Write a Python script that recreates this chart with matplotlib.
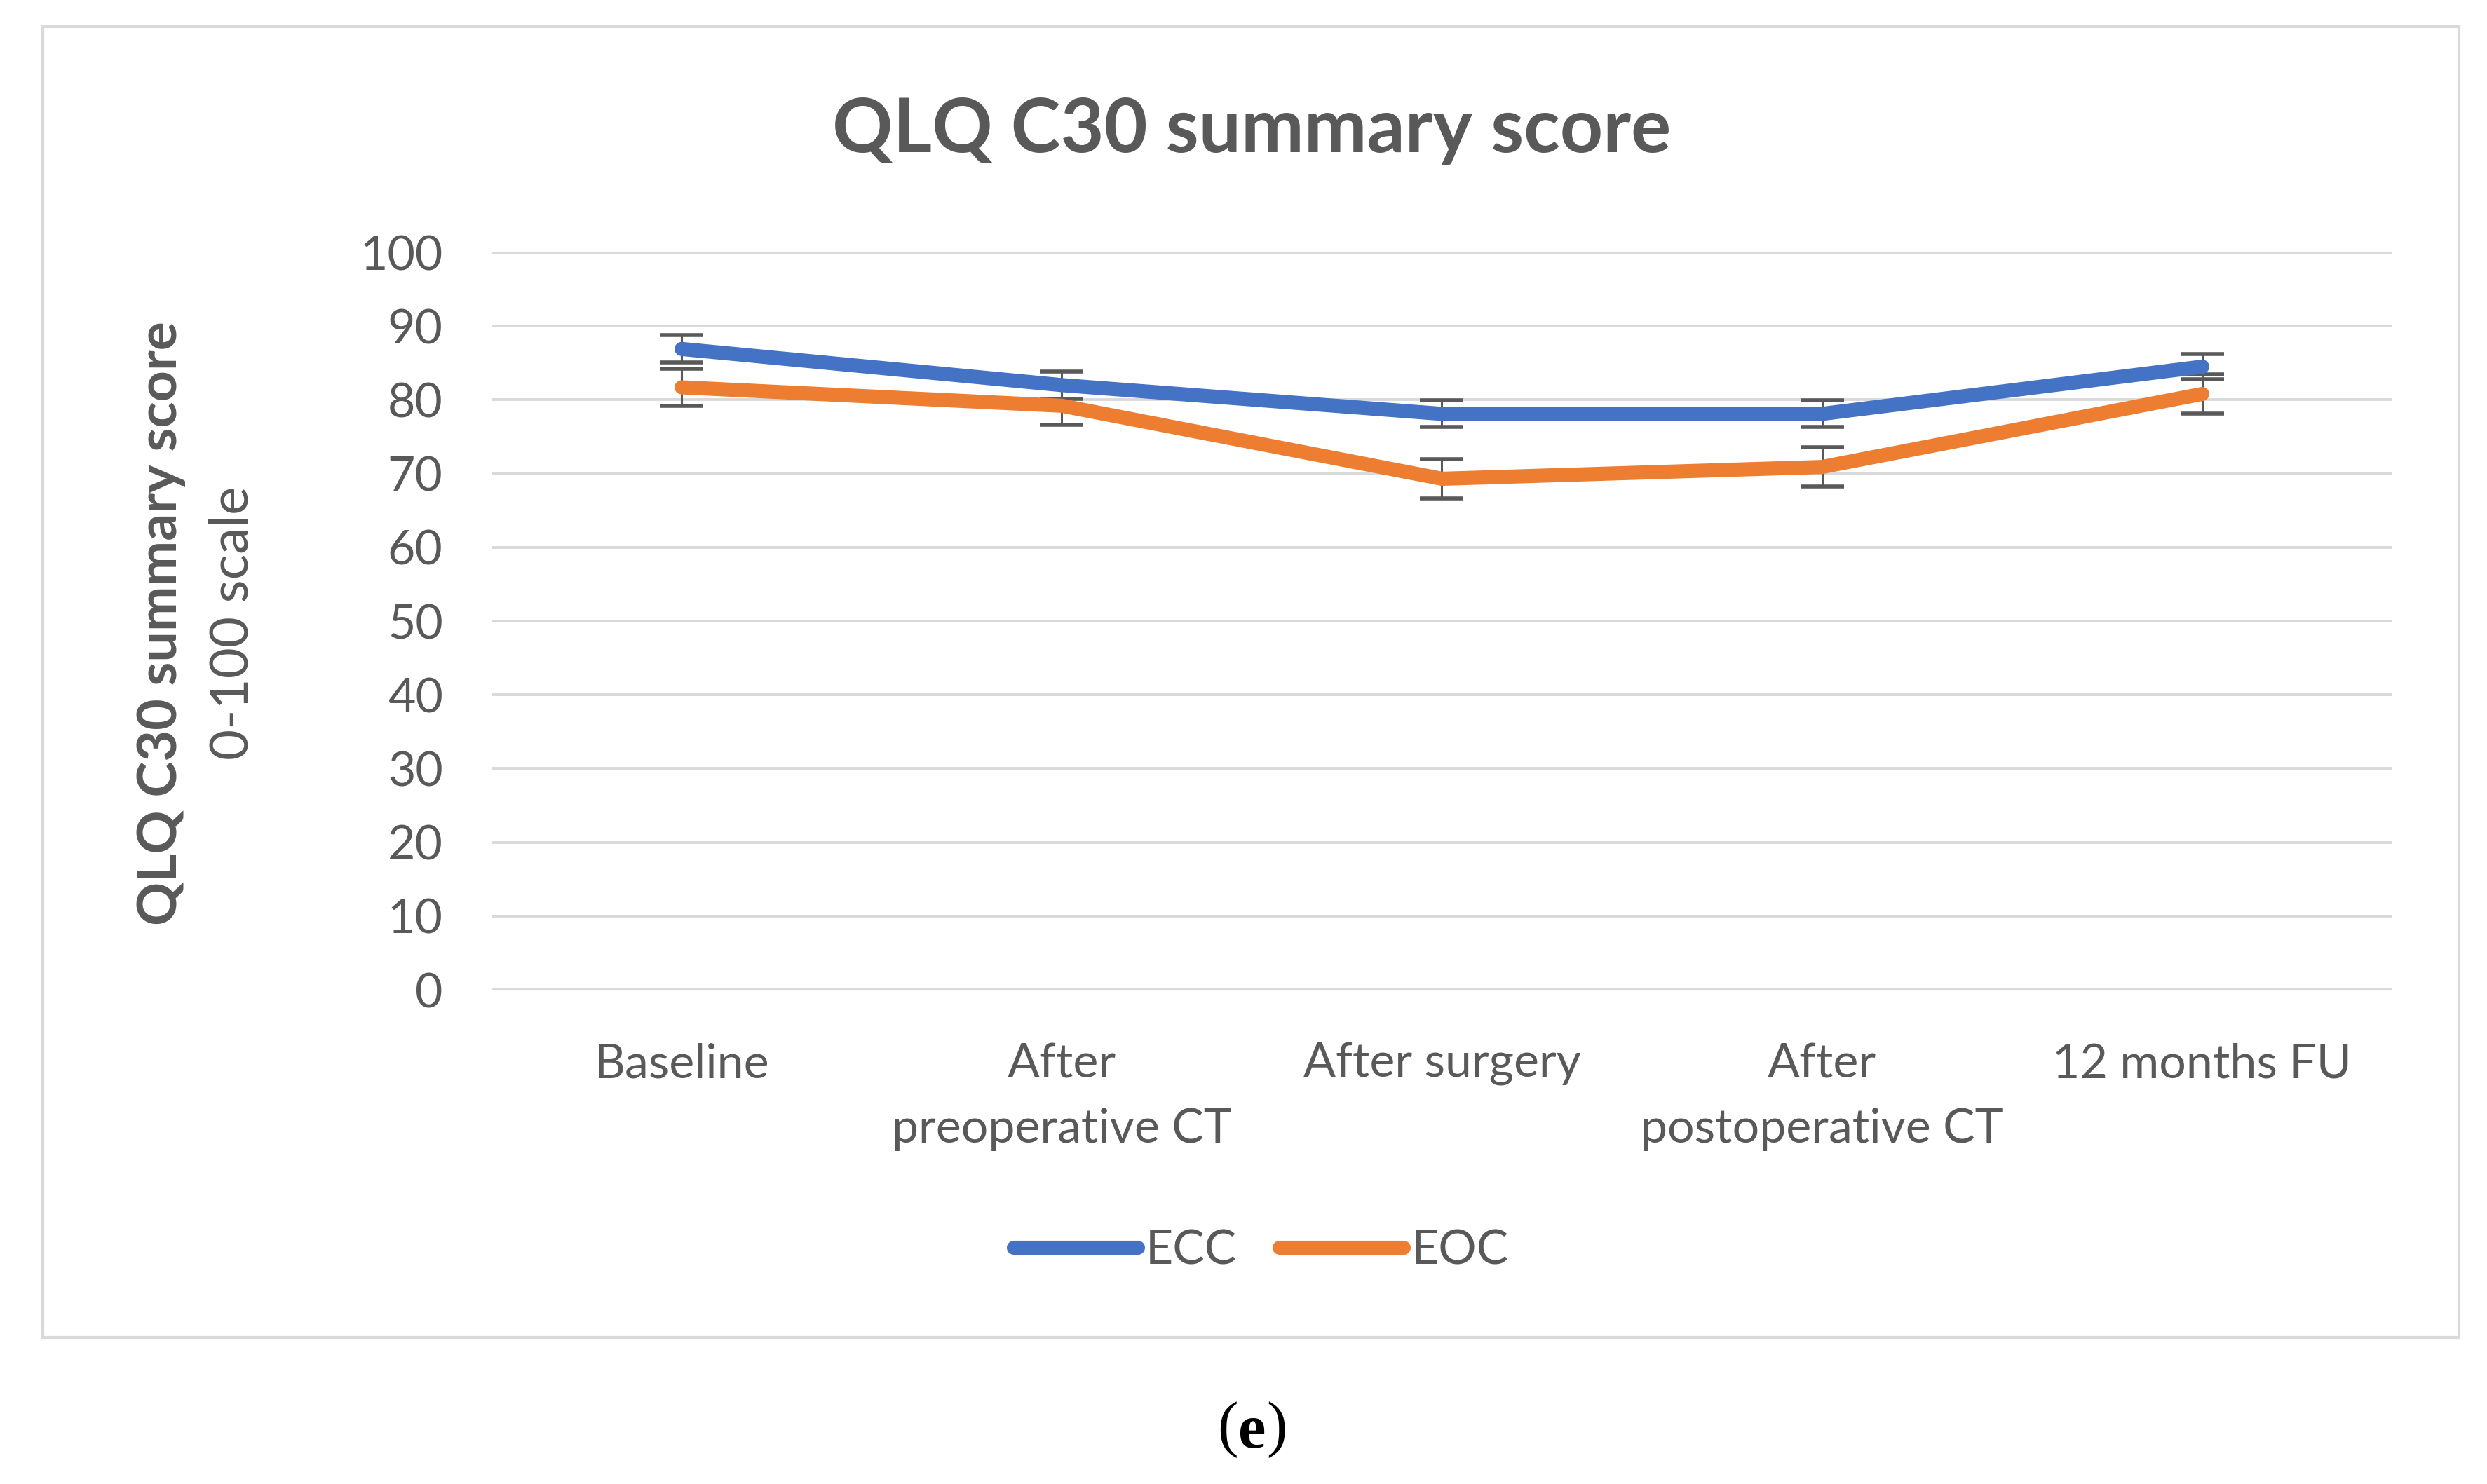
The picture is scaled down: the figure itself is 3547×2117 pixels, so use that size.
import matplotlib
matplotlib.use("Agg")
import matplotlib.pyplot as plt
from matplotlib.patches import Rectangle

categories = ["Baseline", "After\npreoperative CT", "After surgery",
              "After\npostoperative CT", "12 months FU"]
ecc = [86.9, 82.0, 78.1, 78.1, 84.5]
ecc_err = [1.85, 1.85, 1.8, 1.8, 1.75]
eoc = [81.7, 79.2, 69.3, 70.9, 80.8]
eoc_err = [2.5, 2.6, 2.65, 2.65, 2.65]
yticks = [0, 10, 20, 30, 40, 50, 60, 70, 80, 90, 100]

W, H = 3548, 2117
text_col = "#595959"
blue = "#4472C4"
orange = "#ED7D31"
grid_col = "#D9D9D9"

plt.rcParams["font.family"] = ["Lato", "DejaVu Sans"]

fig = plt.figure(figsize=(W / 100, H / 100), dpi=100)
ax = fig.add_axes([701 / W, 1 - 1412 / H, (3412 - 701) / W, (1412 - 360) / H])

# chart frame
fig.add_artist(Rectangle((61 / W, 1 - 1908 / H), (3507 - 61) / W, (1908 - 38) / H,
                         transform=fig.transFigure, fill=False,
                         edgecolor=grid_col, linewidth=3))

x = range(len(categories))
ax.errorbar(x, ecc, yerr=ecc_err, fmt="none", ecolor=text_col, elinewidth=2.2,
            capsize=22, capthick=4, zorder=2)
ax.errorbar(x, eoc, yerr=eoc_err, fmt="none", ecolor=text_col, elinewidth=2.2,
            capsize=22, capthick=4, zorder=2)
ax.plot(x, ecc, color=blue, lw=14.5, solid_capstyle="round", solid_joinstyle="round",
        label="ECC", zorder=3)
ax.plot(x, eoc, color=orange, lw=14.5, solid_capstyle="round", solid_joinstyle="round",
        label="EOC", zorder=3)

ax.set_xlim(-0.5, len(categories) - 0.5)
ax.set_ylim(0, 100)
ax.set_yticks(yticks)
ax.set_xticks(list(x))
ax.set_xticklabels(categories, linespacing=1.62)
ax.tick_params(axis="both", length=0, labelsize=49, labelcolor=text_col)
ax.tick_params(axis="y", pad=50)
ax.tick_params(axis="x", pad=54)
ax.grid(axis="y", color=grid_col, linewidth=2.8)
ax.set_axisbelow(True)
for s in ax.spines.values():
    s.set_visible(False)

fig.text(1785 / W, 1 - 186 / H, "QLQ C30 summary score", ha="center", va="center",
         fontsize=77, fontweight="bold", color=text_col)
fig.text(230 / W, 1 - 889 / H, "QLQ C30 summary score", ha="center", va="center",
         rotation=90, fontsize=55.5, fontweight="bold", color=text_col)
fig.text(332 / W, 1 - 889 / H, "0-100 scale", ha="center", va="center",
         rotation=90, fontsize=55, color=text_col)

leg = fig.legend(loc="center", bbox_to_anchor=(1799 / W, 1 - 1785 / H), ncol=2,
                 frameon=False, fontsize=49, handlelength=2.6, handletextpad=0.15,
                 columnspacing=0.9, labelcolor=text_col)

# panel caption
fig.text(1786 / W, 1 - 2043 / H, "e", ha="center", va="center", fontsize=64,
         fontweight="bold", family="Liberation Serif", color="black")
fig.text(1766 / W, 1 - 2040 / H, "(", ha="right", va="center", fontsize=64,
         family="Liberation Serif", color="black")
fig.text(1806 / W, 1 - 2040 / H, ")", ha="left", va="center", fontsize=64,
         family="Liberation Serif", color="black")

fig.savefig("out.png", dpi=100, facecolor="white")
